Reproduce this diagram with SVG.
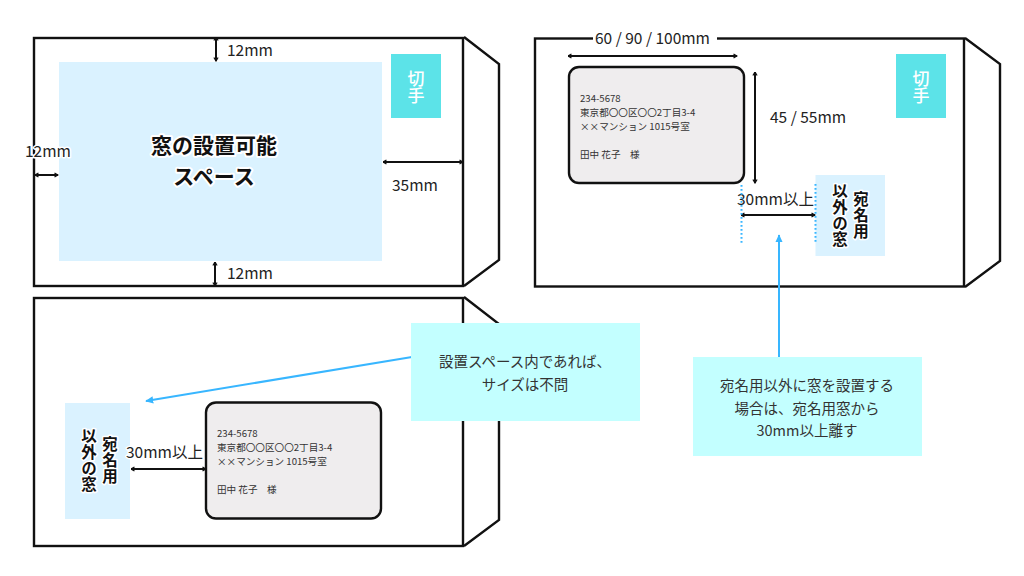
<svg xmlns="http://www.w3.org/2000/svg" width="1024" height="576" viewBox="0 0 1024 576">
<style>
text{font-family:"Noto Sans CJK JP","Noto Sans",sans-serif;fill:#1a1a1a}
.env{fill:#fff;stroke:#111;stroke-width:2.4}
.flap{fill:none;stroke:#111;stroke-width:2.4;stroke-linejoin:miter}
.zone{fill:#daf2ff}
.stamp{fill:#5ce3e8}
.stampt{fill:#fff;font-size:17px;font-weight:500;text-anchor:middle}
.dim{font-size:15.5px;fill:#222}
.halo{paint-order:stroke;stroke:#fff;stroke-width:3px;stroke-linejoin:round}
.big{font-size:21px;font-weight:700;text-anchor:middle;fill:#111;paint-order:stroke;stroke:#fff;stroke-width:4px;stroke-linejoin:round}
.vert{font-size:15.5px;font-weight:700;fill:#111;writing-mode:vertical-rl;text-anchor:middle;paint-order:stroke;stroke:#fff;stroke-width:3px;stroke-linejoin:round;letter-spacing:.5px}
.win{fill:#efedee;stroke:#111;stroke-width:2.4}
.addr{font-size:9.6px;fill:#333}
.note{fill:#c3ffff}
.notet{font-size:14.5px;fill:#333;text-anchor:middle}
.ar{fill:none;stroke:#111;stroke-width:2;marker-start:url(#a);marker-end:url(#a)}
.blue{fill:none;stroke:#38b6ff;stroke-width:2;marker-end:url(#b)}
.dot{fill:none;stroke:#38b6ff;stroke-width:2;stroke-dasharray:1.8 2.2}
</style>
<defs>
<marker id="a" viewBox="0 0 10 10" refX="9" refY="5" markerWidth="5" markerHeight="6" orient="auto-start-reverse" markerUnits="userSpaceOnUse"><path d="M2 0.8L9 5L2 9.2" fill="none" stroke="#111" stroke-width="2.4"/></marker>
<marker id="b" viewBox="0 0 10 10" refX="9" refY="5" markerWidth="8" markerHeight="8" orient="auto" markerUnits="userSpaceOnUse"><path d="M0 0.5L10 5L0 9.5Z" fill="#38b6ff"/></marker>
</defs>
<rect width="1024" height="576" fill="#fff"/>

<g id="envelope-1">
<rect class="env" x="34" y="38" width="429" height="248"/>
<path class="flap" d="M464 37L499 64V260L464 286"/>
<rect class="zone" x="59" y="62" width="323" height="199"/>
<rect class="stamp" x="391" y="54" width="50" height="64"/>
<text class="stampt" x="416" y="85">切</text>
<text class="stampt" x="416" y="102">手</text>
<text class="big" x="214" y="153">窓の設置可能</text>
<text class="big" x="214" y="184">スペース</text>
<text class="dim" x="227" y="56">12mm</text>
<text class="dim" x="227" y="279">12mm</text>
<text class="dim halo" x="25" y="157">12mm</text>
<text class="dim" x="392" y="191">35mm</text>
</g>

<g id="envelope-2">
<rect class="env" x="535" y="38.500" width="429" height="248"/>
<path class="flap" d="M965 38L1000 64V261L965 287"/>
<rect class="stamp" x="896" y="54" width="50" height="64"/>
<text class="stampt" x="921" y="85">切</text>
<text class="stampt" x="921" y="102">手</text>
<rect class="win" x="569" y="67" width="175" height="116" rx="10"/>
<g class="addr"><text class="addr" x="580" y="102">234-5678</text><text class="addr" x="580" y="116">東京都〇〇区〇〇2丁目3-4</text><text class="addr" x="580" y="130">××マンション 1015号室</text><text class="addr" x="580" y="158">田中 花子　様</text></g>
<rect class="zone" x="815.500" y="175" width="69.500" height="81"/>
<text class="vert" x="861" y="215">宛名用</text>
<text class="vert" x="840" y="215">以外の窓</text>
<rect x="593" y="30" width="124" height="16" fill="#fff"/>
<text class="dim" x="595" y="44">60 / 90 / 100mm</text>
<text class="dim" x="770" y="123">45 / 55mm</text>
<text class="dim halo" x="737" y="205">30mm以上</text>
</g>

<g id="envelope-3">
<rect class="env" x="34" y="298" width="429" height="248"/>
<path class="flap" d="M464 297L499 324V520L464 546"/>
<rect class="zone" x="65" y="403" width="65" height="116"/>
<text class="vert" x="110" y="460">宛名用</text>
<text class="vert" x="89" y="460">以外の窓</text>
<rect class="win" x="206" y="402.500" width="175" height="116" rx="10"/>
<text class="addr" x="217" y="437">234-5678</text><text class="addr" x="217" y="451">東京都〇〇区〇〇2丁目3-4</text><text class="addr" x="217" y="465">××マンション 1015号室</text><text class="addr" x="217" y="493">田中 花子　様</text>
<text class="dim halo" x="126" y="458">30mm以上</text>
</g>

<g id="connectors">
<path class="ar" d="M216 37V61"/>
<path class="ar" d="M215 262V286"/>
<path class="ar" d="M35 175H58"/>
<path class="ar" d="M383 162H463"/>
<path class="ar" d="M568 56H737"/>
<path class="ar" d="M755 72V183"/>
<path class="ar" d="M741 215H815"/>
<path class="ar" d="M131 469H206"/>
<path class="dot" d="M741.500 185V244"/>
<path class="dot" d="M815.500 184V243"/>
<path class="blue" d="M779 357V235"/>
<path class="blue" d="M412 357L146 401"/>
</g>

<g id="note-1">
<rect class="note" x="411" y="323" width="229" height="98"/>
<text class="notet" x="525" y="367">設置スペース内であれば、</text>
<text class="notet" x="525" y="390">サイズは不問</text>
</g>
<g id="note-2">
<rect class="note" x="693" y="357" width="229" height="99"/>
<text class="notet" x="807" y="391">宛名用以外に窓を設置する</text>
<text class="notet" x="807" y="414">場合は、宛名用窓から</text>
<text class="notet" x="807" y="436">30mm以上離す</text>
</g>
</svg>
